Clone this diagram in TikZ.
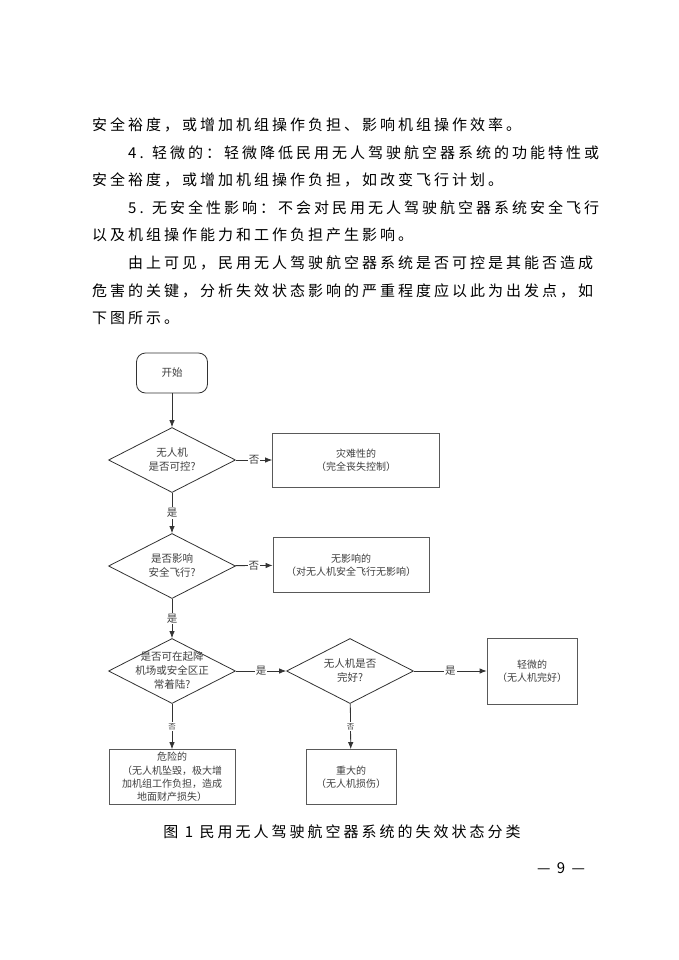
\documentclass[tikz,border=0pt]{standalone}
\usepackage{fontspec}
\setmainfont{Noto Sans CJK SC}
\newfontfamily\bodyfont{Noto Sans CJK SC}[LetterSpace=20]
\newfontfamily\chartfont{Noto Sans CJK SC}
\usetikzlibrary{positioning}
\usetikzlibrary{arrows.meta}
\usetikzlibrary{shapes.geometric}

\begin{document}
\begin{tikzpicture}[x=1pt, y=-1pt, >={Latex[length=7pt,width=5.5pt]},
  line/.style={draw=black!80, line width=0.8pt},
  para/.style={anchor=west, inner sep=0pt, font=\bodyfont\fontsize{15}{18}\selectfont},
  startbox/.style={line, rounded corners=9pt, minimum width=71pt, minimum height=40pt,
    font=\chartfont\fontsize{10.5}{13}\selectfont, text=black!75},
  decision/.style={line, diamond, minimum width=127pt, minimum height=65pt, inner sep=0pt,
    label={[align=center, font=\chartfont\fontsize{10.5}{14}\selectfont, text=black!75]center:#1}},
  outcome/.style={line, draw=black!65, rectangle, align=center, inner sep=0pt,
    font=\chartfont\fontsize{10}{13.3}\selectfont, text=black!75},
  flow/.style={line, ->},
  tag/.style={fill=white, inner sep=1pt, font=\chartfont\fontsize{10.5}{10}\selectfont, text=black!75},
  smalltag/.style={tag, font=\chartfont\fontsize{7.5}{8}\selectfont}]

\useasboundingbox [fill=white] (0,0) rectangle (679,960);

% running text of the page
\node [para] (t1) at (92,125) {安全裕度，或增加机组操作负担、影响机组操作效率。};
\node [para] (t2) at (128,153) {4. 轻微的：轻微降低民用无人驾驶航空器系统的功能特性或};
\node [para] (t3) at (92,180) {安全裕度，或增加机组操作负担，如改变飞行计划。};
\node [para] (t4) at (128,208) {5. 无安全性影响：不会对民用无人驾驶航空器系统安全飞行};
\node [para] (t5) at (92,235) {以及机组操作能力和工作负担产生影响。};
\node [para] (t6) at (128,263) {由上可见，民用无人驾驶航空器系统是否可控是其能否造成};
\node [para] (t7) at (92,291) {危害的关键，分析失效状态影响的严重程度应以此为出发点，如};
\node [para] (t8) at (92,318) {下图所示。};

% decisions and outcomes
\node [startbox] (start) at (172,373) {开始};
\node [decision={无人机\\是否可控?}] (ctrl) at (172,460) {};
\node [outcome, minimum width=167pt, minimum height=54pt] (catas) at (356,460) {灾难性的\\（完全丧失控制）};
\node [decision={是否影响\\安全飞行?}] (safe) at (172,566) {};
\node [outcome, minimum width=156pt, minimum height=55pt] (noeff) at (351,565) {无影响的\\（对无人机安全飞行无影响）};
\node [decision={是否可在起降\\机场或安全区正\\常着陆?}] (land) at (172,671) {};
\node [decision={无人机是否\\完好?}] (intact) at (350,671) {};
\node [outcome, minimum width=90pt, minimum height=66pt] (minor) at (532,671) {轻微的\\（无人机完好）};
\node [outcome, minimum width=126pt, minimum height=55pt] (hazard) at (172,777) {危险的\\（无人机坠毁，极大增\\加机组工作负担，造成\\地面财产损失）};
\node [outcome, minimum width=90pt, minimum height=55pt] (major) at (351,777) {重大的\\（无人机损伤）};

% connectors
\draw [flow] (start) -- (ctrl);
\draw [flow] (ctrl) -- node [tag] {否} (catas);
\draw [flow] (ctrl) -- node [tag] {是} (safe);
\draw [flow] (safe) -- node [tag] {否} (noeff);
\draw [flow] (safe) -- node [tag] {是} (land);
\draw [flow] (land) -- node [tag] {是} (intact);
\draw [flow] (intact) -- node [tag] {是} (minor);
\draw [flow] (land) -- node [smalltag] {否} (hazard);
\draw [flow] (intact) -- node [smalltag] {否} (major);

% caption and page number
\node [para, anchor=center] (cap) at (342,832) {图 1 民用无人驾驶航空器系统的失效状态分类};
\node [para, anchor=center] (pageno) at (561,868) {— 9 —};

\end{tikzpicture}
\end{document}
